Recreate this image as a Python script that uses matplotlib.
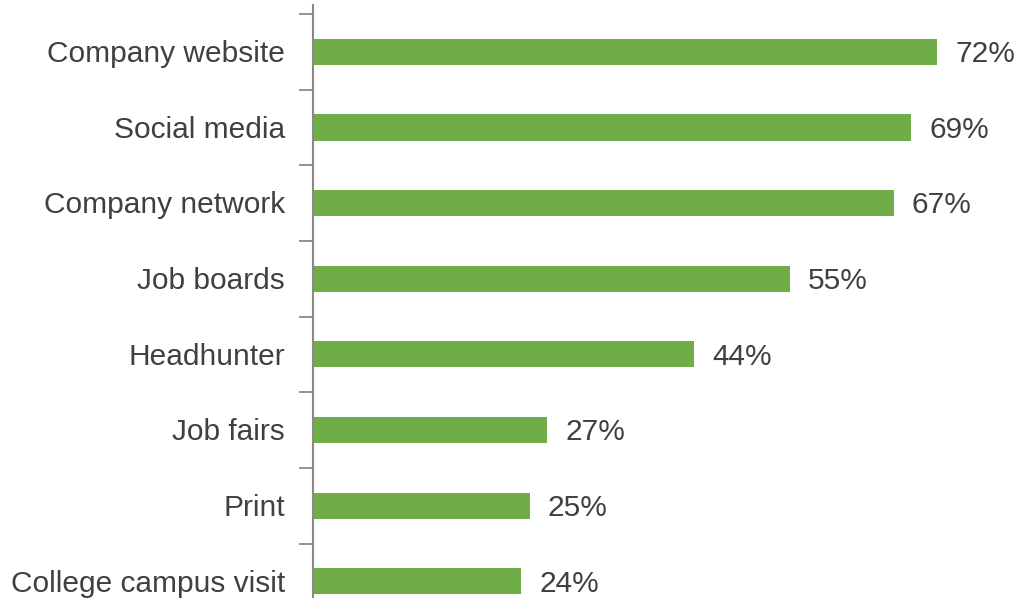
import matplotlib.pyplot as plt

plt.rcParams['font.family'] = ['Liberation Sans', 'DejaVu Sans']

channels = ['Company website', 'Social media', 'Company network', 'Job boards',
            'Headhunter', 'Job fairs', 'Print', 'College campus visit']
shares = [72, 69, 67, 55, 44, 27, 25, 24]

bar_color = '#70AD47'
text_color = '#404040'
axis_color = '#898989'

fig = plt.figure(figsize=(10.19, 5.98), dpi=100)
ax = fig.add_axes([313 / 1019, 0, 1 - 313 / 1019, 593 / 598])

pos = list(range(len(channels)))
ax.barh(pos, shares, height=0.345, color=bar_color)

# nudge text down a touch so it sits centred on the bars
dy = 0.03
for y, v in zip(pos, shares):
    ax.text(v + 2.1, y + dy, f'{v}%', va='center', ha='left',
            fontsize=21.5, color=text_color)

ax.set_xlim(0, (1019 - 313) / 8.667)
ax.set_ylim(7.22, -0.62)

# category names as text, tick marks sit between categories
ax.set_yticks([p - 0.5 for p in pos])
ax.set_yticklabels([])
ax.tick_params(axis='y', length=10, width=1.3, color=axis_color)
for y, name in zip(pos, channels):
    ax.text(-28 / 8.667, y + dy, name, va='center', ha='right',
            fontsize=21.5, color=text_color)

ax.set_xticks([])
for side in ['top', 'right', 'bottom']:
    ax.spines[side].set_visible(False)
ax.spines['left'].set_color(axis_color)
ax.spines['left'].set_linewidth(1.5)

fig.savefig('out.png', dpi=100)
